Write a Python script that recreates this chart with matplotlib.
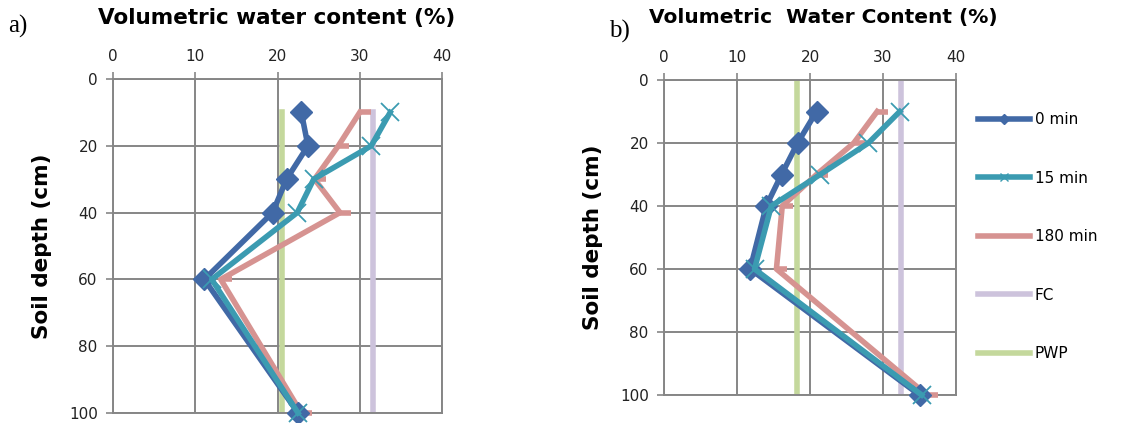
import numpy as np
import matplotlib.pyplot as plt
from matplotlib.lines import Line2D
from matplotlib.path import Path

# data
depth = [10, 20, 30, 40, 60, 100]

a_0min = [22.9, 23.7, 21.1, 19.4, 11.1, 22.5]
a_15min = [33.7, 31.4, 24.4, 22.4, 12.0, 22.5]
a_180min = [30.0, 27.4, 24.5, 27.6, 13.1, 22.9]
a_fc = 31.6
a_pwp = 20.6
a_limit_depth = [10, 100]

b_0min = [20.9, 18.3, 16.1, 14.0, 11.8, 35.0]
b_15min = [32.3, 28.0, 21.4, 14.7, 12.4, 35.3]
b_180min = [29.2, 26.0, 20.9, 16.2, 15.4, 36.0]
b_fc = 32.4
b_pwp = 18.2
b_limit_depth = [0, 100]

labels = ['0 min', '15 min', '180 min', 'FC', 'PWP']
colors = ['#4169a6', '#3b9bb1', '#d69391', '#cdc3dc', '#c4d89c']

# dash marker that starts at the point and goes right
dash = Path([(0, 0), (1, 0)], [Path.MOVETO, Path.LINETO])

W, H = 1123, 423
fig = plt.figure(figsize=(W / 100, H / 100), dpi=100)


def panel(box, s0, s15, s180, fc, pwp, lim_depth, title, title_size, letter,
          letter_xy, title_x):
    l, t, r, b = box
    ax = fig.add_axes([l / W, 1 - b / H, (r - l) / W, (b - t) / H])
    lw = 4.0
    ax.plot([pwp, pwp], lim_depth, color=colors[4], lw=lw, zorder=2)
    ax.plot([fc, fc], lim_depth, color=colors[3], lw=lw, zorder=2)
    ax.plot(s180, depth, color=colors[2], lw=lw, marker=dash, ms=16, mew=lw,
            clip_on=False, zorder=3)
    ax.plot(s0, depth, color=colors[0], lw=lw, marker='D', ms=11,
            clip_on=False, zorder=4)
    ax.plot(s15, depth, color=colors[1], lw=lw, marker='x', ms=13, mew=1.3,
            clip_on=False, zorder=5)

    ax.set_xlim(0, 40)
    ax.set_ylim(100, 0)
    ax.set_xticks([0, 10, 20, 30, 40])
    ax.set_yticks([0, 20, 40, 60, 80, 100])
    ax.xaxis.tick_top()
    ax.tick_params(labelsize=11, length=5, width=1.2, pad=6,
                   colors='#868686', labelcolor='#222222')
    ax.grid(True, color='#868686', lw=1.4)
    ax.set_axisbelow(True)
    for sp in ax.spines.values():
        sp.set_color('#868686')
        sp.set_linewidth(1.4)
    ax.set_ylabel('Soil depth (cm)', fontsize=15.5, fontweight='bold', labelpad=12)
    fig.text(title_x / W, 1 - 18 / H, title, fontsize=title_size,
             fontweight='bold', ha='center', va='center')
    fig.text(letter_xy[0] / W, 1 - letter_xy[1] / H, letter, fontsize=18,
             family='Liberation Serif', ha='left', va='center')
    return ax


ax_a = panel((113, 79, 442, 413), a_0min, a_15min, a_180min, a_fc, a_pwp,
             a_limit_depth, 'Volumetric water content (%)', 15.5, 'a)',
             (8, 26), 277)
ax_b = panel((664, 80, 956, 395), b_0min, b_15min, b_180min, b_fc, b_pwp,
             b_limit_depth, 'Volumetric  Water Content (%)', 14.5, 'b)',
             (609, 31), 823)

handles = [
    Line2D([], [], color=colors[0], lw=4, marker='D', ms=5),
    Line2D([], [], color=colors[1], lw=4, marker='x', ms=6, mew=1),
    Line2D([], [], color=colors[2], lw=4),
    Line2D([], [], color=colors[3], lw=4),
    Line2D([], [], color=colors[4], lw=4),
]
fig.legend(handles, labels, loc='upper left', bbox_to_anchor=(972 / W, 1 - 106 / H),
           frameon=False, fontsize=11, handlelength=3.4, handletextpad=0.3,
           labelspacing=2.85, borderaxespad=0)

fig.savefig('out.png', dpi=100)
